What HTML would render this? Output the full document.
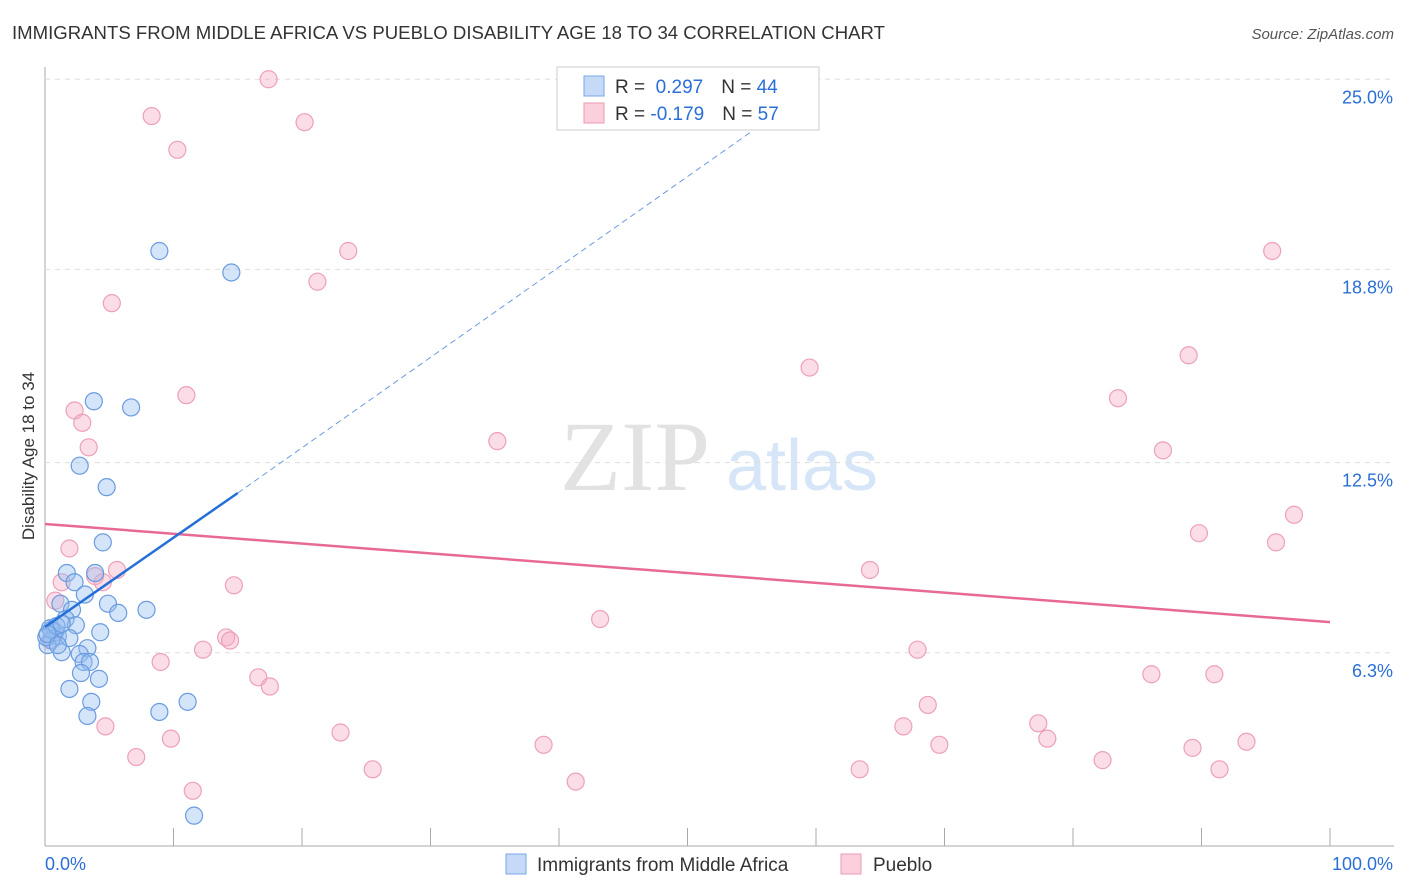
<!DOCTYPE html>
<html><head><meta charset="utf-8"><style>
body{margin:0;background:#fff;font-family:"Liberation Sans",sans-serif}
svg{display:block}
</style></head><body>
<svg id="chart" width="1406" height="892">
<text x="12" y="39" font-size="18" fill="#333" textLength="873" lengthAdjust="spacingAndGlyphs">IMMIGRANTS FROM MIDDLE AFRICA VS PUEBLO DISABILITY AGE 18 TO 34 CORRELATION CHART</text>
<text x="1394" y="39" font-size="15" fill="#555" text-anchor="end" font-style="italic">Source: ZipAtlas.com</text>
<text x="34" y="456" font-size="17" fill="#333" text-anchor="middle" transform="rotate(-90 34 456)">Disability Age 18 to 34</text>
<g><text x="635" y="490" font-size="100" fill="#e2e2e2" font-family="Liberation Serif,serif" text-anchor="middle">ZIP</text><text x="802" y="490" font-size="72" fill="#d6e5f7" text-anchor="middle">atlas</text></g>
<g id="grid"></g><g id="marks"></g>
<g>
<rect x="557" y="67" width="262" height="63" fill="#fff" stroke="#ccc"/>
<rect x="584" y="76" width="20" height="20" fill="#c5daf7" stroke="#7aa6e6"/>
<rect x="584" y="103" width="20" height="20" fill="#fbd0dc" stroke="#ee9ab3"/>
<text x="615" y="93" font-size="19" fill="#333">R = <tspan fill="#2a6fd6">&#160;0.297</tspan><tspan dx="18">N = </tspan><tspan fill="#2a6fd6">44</tspan></text>
<text x="615" y="120" font-size="19" fill="#333">R = <tspan fill="#2a6fd6">-0.179</tspan><tspan dx="18">N = </tspan><tspan fill="#2a6fd6">57</tspan></text>
</g>
<g>
<rect x="506" y="854" width="20" height="20" fill="#c5daf7" stroke="#7aa6e6"/>
<text x="537" y="871" font-size="19" fill="#333">Immigrants from Middle Africa</text>
<rect x="841" y="854" width="20" height="20" fill="#fbd0dc" stroke="#ee9ab3"/>
<text x="873" y="871" font-size="19" fill="#333">Pueblo</text>
</g>
</svg>
<script>
const yTicks=[25.0,18.8,12.5,6.3];
const yTickLabels=["25.0%","18.8%","12.5%","6.3%"];
const xLabels=["0.0%","100.0%"];
const blueX=[8.9,14.5,3.8,6.7,2.7,4.8,4.5,1.7,3.9,2.3,3.1,1.2,2.1,4.9,7.9,5.7,1.6,2.4,0.4,0.8,1.0,4.3,1.9,0.5,0.2,3.3,1.3,2.7,3.0,3.5,2.8,4.2,1.9,3.6,11.1,8.9,3.3,11.6,0.5,0.1,0.9,1.3,0.2,1.0];
const blueY=[19.4,18.7,14.5,14.3,12.4,11.7,9.9,8.9,8.9,8.6,8.2,7.9,7.7,7.9,7.7,7.6,7.4,7.2,7.1,6.97,6.84,6.97,6.78,6.71,6.55,6.45,6.32,6.26,6.0,6.0,5.64,5.45,5.12,4.7,4.7,4.37,4.24,0.99,7.04,6.81,7.17,7.24,6.91,6.55];
const pinkX=[17.4,8.3,20.2,10.3,23.6,5.2,21.2,95.5,89.0,59.5,11.0,2.3,2.9,3.4,35.2,83.5,87.0,97.2,89.8,95.8,1.9,5.6,3.9,1.3,4.5,14.7,64.2,0.8,43.2,14.1,14.4,12.3,9.0,67.9,16.6,17.5,86.1,91.0,68.7,4.7,66.8,23.0,77.3,78.0,9.8,38.8,69.6,7.1,82.3,89.3,93.5,25.5,63.4,91.4,41.3,11.5,0.4];
const pinkY=[25.0,23.8,23.6,22.7,19.4,17.7,18.4,19.4,16.0,15.6,14.7,14.2,13.8,13.0,13.2,14.6,12.9,10.8,10.2,9.9,9.7,9.0,8.8,8.6,8.6,8.5,9.0,8.0,7.4,6.8,6.7,6.4,6.0,6.4,5.5,5.2,5.6,5.6,4.6,3.9,3.9,3.7,4.0,3.5,3.5,3.3,3.3,2.9,2.8,3.2,3.4,2.5,2.5,2.5,2.1,1.8,6.7];
const blueLine=[[0,7.14],[15,11.51],[55,23.3]];
const pinkLine=[[0,10.5],[100,7.3]];
const X=v=>45+v*12.85, Y=v=>846-v*30.67;
const NS="http://www.w3.org/2000/svg";
function mk(t,a,p){const e=document.createElementNS(NS,t);for(const k in a)e.setAttribute(k,a[k]);p.appendChild(e);return e;}
const g=document.getElementById('grid'), m=document.getElementById('marks');
let ax=mk('line',{x1:45,y1:67,x2:45,y2:846,stroke:'#aaa'},g);


let bx=mk('line',{x1:45,y1:846,x2:1394,y2:846,stroke:'#aaa'},g);


for(let i=0;i<=10;i++){let t=mk('line',{x1:X(i*10),x2:X(i*10),y1:828,y2:846,stroke:'#aaa'},g);

}
yTicks.forEach((v,i)=>{let l=mk('line',{x1:45,x2:1394,y1:Y(v),y2:Y(v),stroke:'#ddd','stroke-dasharray':'5,5'},g);


let t=mk('text',{x:1393,y:Y(v)+24,'font-size':18,fill:'#2a6fd6','text-anchor':'end'},g);t.textContent=yTickLabels[i];

});
let xl0=mk('text',{x:45,y:870,'font-size':18,fill:'#2a6fd6'},g);xl0.textContent=xLabels[0];


let xl1=mk('text',{x:1393,y:870,'font-size':18,fill:'#2a6fd6','text-anchor':'end'},g);xl1.textContent=xLabels[1];


pinkX.forEach((v,i)=>{let c=mk('circle',{cx:X(v),cy:Y(pinkY[i]),r:8.5,fill:'rgba(246,170,195,0.4)',stroke:'#eda0b8','stroke-width':1.2},m);

});
blueX.forEach((v,i)=>{let c=mk('circle',{cx:X(v),cy:Y(blueY[i]),r:8.5,fill:'rgba(150,190,240,0.4)',stroke:'#6a9be0','stroke-width':1.2},m);

});
let pl=mk('line',{x1:X(pinkLine[0][0]),y1:Y(pinkLine[0][1]),x2:X(pinkLine[1][0]),y2:Y(pinkLine[1][1]),stroke:'#e86a94','stroke-width':2.5},m);


let b1=mk('line',{x1:X(blueLine[0][0]),y1:Y(blueLine[0][1]),x2:X(blueLine[1][0]),y2:Y(blueLine[1][1]),stroke:'#2470d8','stroke-width':2.5},m);


let b2=mk('line',{x1:X(blueLine[1][0]),y1:Y(blueLine[1][1]),x2:X(blueLine[2][0]),y2:Y(blueLine[2][1]),stroke:'#6a9be0','stroke-width':1,'stroke-dasharray':'6,4'},m);


</script>
</body></html>
